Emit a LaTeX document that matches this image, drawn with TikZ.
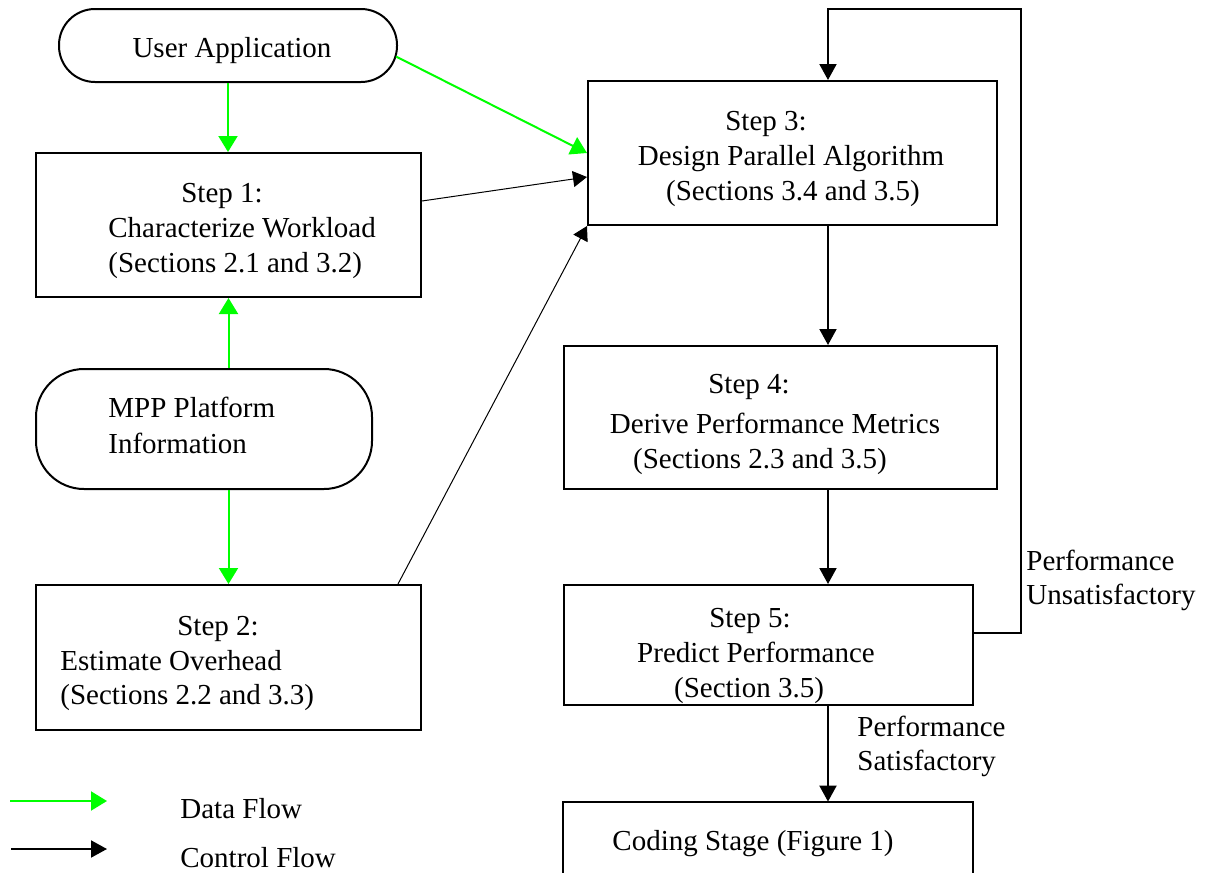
\documentclass[tikz,border=0pt]{standalone}
\usepackage{fontspec}
\setmainfont{Liberation Serif}
\usetikzlibrary{arrows.meta,calc}
\definecolor{dgreen}{RGB}{0,255,0}
\begin{document}
\begin{tikzpicture}[x=0.5pt,y=-0.5pt,
  boxn/.style={draw, line width=1pt, inner sep=0pt, rectangle},
  term/.style={draw, line width=1pt, inner sep=0pt, rectangle, rounded corners=#1},
  txt/.style={inner sep=0pt, font=\fontsize{14.5}{17.5}\selectfont},
  data/.style={dgreen, line width=1pt, -{Triangle[length=8pt,width=9.5pt]}},
  ctrl/.style={black, line width=1pt, -{Triangle[length=8pt,width=8.5pt]}},
  thinctrl/.style={black, line width=0.5pt, -{Triangle[length=7pt,width=8pt]}}]
\useasboundingbox (0,0) rectangle (1207,873);

% shapes
\node[term=18pt, minimum width=169pt, minimum height=36.5pt] (ua) at (228,45.5) {};
\node[boxn, minimum width=192.5pt, minimum height=72pt] (s1) at (228.5,225) {};
\node[term=24pt, minimum width=168pt, minimum height=60pt] (mpp) at (204,429) {};
\node[boxn, minimum width=192.5pt, minimum height=72.5pt] (s2) at (228.5,657.5) {};
\node[boxn, minimum width=204.5pt, minimum height=72pt] (s3) at (792.5,153) {};
\node[boxn, minimum width=216.5pt, minimum height=71.5pt] (s4) at (780.5,417.5) {};
\node[boxn, minimum width=204.5pt, minimum height=60pt] (s5) at (768.5,645) {};
\node[inner sep=0pt, minimum width=205pt, minimum height=35.5pt] (cs) at (768,837.5) {};
\draw[line width=1pt] (cs.south west) -- (cs.north west) -- (cs.north east) -- (cs.south east);

% texts
\node[txt, anchor=base] (uat) at (232,57) {User Application};
\node[txt, anchor=base] (s1a) at (222,202) {Step 1:};
\node[txt, anchor=base west] (s1b) at (108,237) {Characterize Workload};
\node[txt, anchor=base west] (s1c) at (108,272) {(Sections 2.1 and 3.2)};
\node[txt, anchor=base west] (mpa) at (108,417) {MPP Platform};
\node[txt, anchor=base west] (mpb) at (108,453) {Information};
\node[txt, anchor=base] (s2a) at (218,635) {Step 2:};
\node[txt, anchor=base west] (s2b) at (60,670) {Estimate Overhead};
\node[txt, anchor=base west] (s2c) at (60,704) {(Sections 2.2 and 3.3)};
\node[txt, anchor=base] (s3a) at (766,130) {Step 3:};
\node[txt, anchor=base] (s3b) at (791,165) {Design Parallel Algorithm};
\node[txt, anchor=base] (s3c) at (793,200) {(Sections 3.4 and 3.5)};
\node[txt, anchor=base] (s4a) at (749,393) {Step 4:};
\node[txt, anchor=base] (s4b) at (775,433) {Derive Performance Metrics};
\node[txt, anchor=base] (s4c) at (760,468) {(Sections 2.3 and 3.5)};
\node[txt, anchor=base] (s5a) at (750,627) {Step 5:};
\node[txt, anchor=base] (s5b) at (756,662) {Predict Performance};
\node[txt, anchor=base] (s5c) at (749,697) {(Section 3.5)};
\node[txt, anchor=base] (cst) at (753,850) {Coding Stage (Figure 1)};
\node[txt, anchor=base west] (una) at (1026,570) {Performance};
\node[txt, anchor=base west] (unb) at (1026,604) {Unsatisfactory};
\node[txt, anchor=base west] (saa) at (857,736) {Performance};
\node[txt, anchor=base west] (sab) at (857,770) {Satisfactory};
\node[txt, anchor=base west] (lga) at (180,818) {Data Flow};
\node[txt, anchor=base west] (lgb) at (180,867) {Control Flow};

% helper coordinates
\coordinate (cx) at (828,0);
\coordinate (lpr) at (1021,9);
\coordinate (l1a) at (10,801);
\coordinate (l1b) at (107,801);
\coordinate (l2a) at (11,849);
\coordinate (l2b) at (107,849);

% data flow
\draw[data] (ua.south) -- (ua.south |- s1.north);
\draw[data] (s1.south |- mpp.north) -- (s1.south);
\draw[data] (s2.north |- mpp.south) -- (s2.north);
\draw[data] ($(ua.east)+(-2,11)$) -- (s3.west);

% control flow
\draw[thinctrl] ($(s1.east)+(0,-24)$) -- ($(s3.west)+(0,24)$);
\draw[thinctrl] ($(s2.north east)+(-24,0)$) -- (s3.south west);
\draw[ctrl] (s3.south -| cx) -- (s4.north -| cx);
\draw[ctrl] (s4.south -| cx) -- (s5.north -| cx);
\draw[ctrl] (s5.south -| cx) -- (cs.north -| cx);
\draw[ctrl] ($(s5.east)+(0,-12)$) -| (lpr) -| (s3.north -| cx);

% legend
\draw[data] (l1a) -- (l1b);
\draw[ctrl] (l2a) -- (l2b);
\end{tikzpicture}
\end{document}
